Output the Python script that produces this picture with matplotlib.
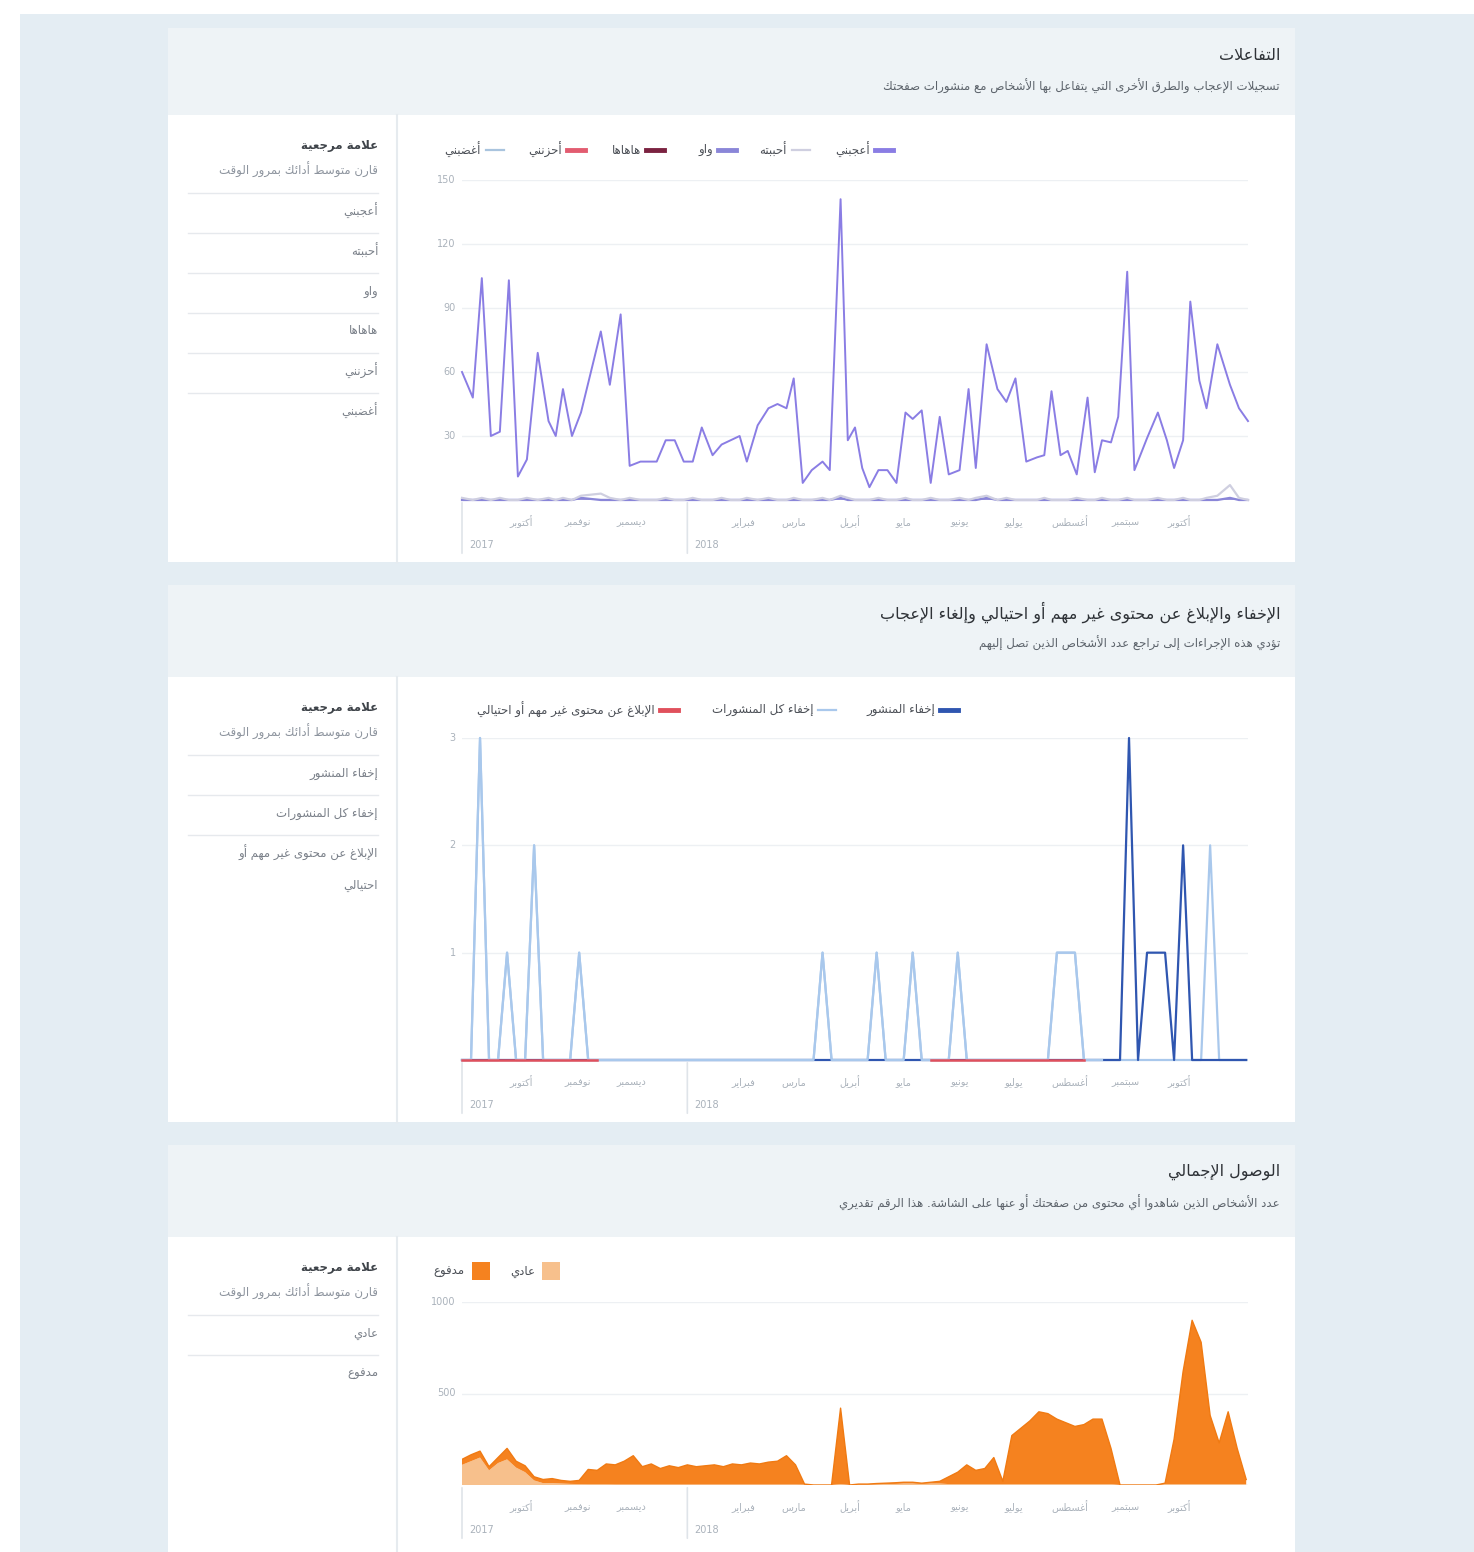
import matplotlib
matplotlib.use('Agg')
import matplotlib.pyplot as plt
from matplotlib.patches import Rectangle
from matplotlib.transforms import offset_copy
import numpy as np
import pandas as pd

W, H = 1474, 1552
ORIGIN = pd.Timestamp('2017-09-01')
X_START, X_END = -3, 433
N = np.nan

# ---- reactions (values per sample day, days counted from ORIGIN)
like_days = [-3, 3, 8, 13, 18, 23, 28, 33, 39, 45,
             49, 53, 58, 63, 74, 79, 85, 90, 96, 105,
             110, 115, 120, 125, 130, 136, 141, 146, 151, 155,
             161, 167, 172, 177, 181, 186, 191, 197, 201, 207,
             211, 215, 219, 223, 228, 233, 238, 243, 247, 252,
             257, 262, 267, 273, 278, 282, 288, 294, 299, 304,
             310, 316, 320, 324, 329, 333, 338, 344, 348, 352,
             357, 361, 366, 370, 377, 383, 388, 392, 397, 401,
             406, 410, 416, 423, 428, 433]
likes = [60, 48, 104, 30, 32, 103, 11, 19, 69, 37,
         30, 52, 30, 41, 79, 54, 87, 16, 18, 18,
         28, 28, 18, 18, 34, 21, 26, 28, 30, 18,
         35, 43, 45, 43, 57, 8, 14, 18, 14, 141,
         28, 34, 15, 6, 14, 14, 8, 41, 38, 42,
         8, 39, 12, 14, 52, 15, 73, 52, 46, 57,
         18, 20, 21, 51, 21, 23, 12, 48, 13, 28,
         27, 39, 107, 14, 29, 41, 28, 15, 28, 93,
         56, 43, 73, 54, 43, 37]
loves = [1, 0, 1, 0, 1, 0, 0, 1, 0, 1,
         0, 1, 0, 2, 3, 1, 0, 1, 0, 0,
         1, 0, 0, 1, 0, 0, 1, 0, 0, 1,
         0, 1, 0, 0, 1, 0, 0, 1, 0, 2,
         1, 0, 0, 0, 1, 0, 0, 1, 0, 0,
         1, 0, 0, 1, 0, 1, 2, 0, 1, 0,
         0, 0, 1, 0, 0, 0, 1, 0, 0, 1,
         0, 0, 1, 0, 0, 1, 0, 0, 1, 0,
         0, 1, 2, 7, 1, 0]
wows = [0, 0, 0, 0, 0, 0, 0, 0, 0, 0,
        0, 0, 0, 1, 0, 0, 0, 0, 0, 0,
        0, 0, 0, 0, 0, 0, 0, 0, 0, 0,
        0, 0, 0, 0, 0, 0, 0, 0, 0, 1,
        0, 0, 0, 0, 0, 0, 0, 0, 0, 0,
        0, 0, 0, 0, 0, 0, 1, 0, 0, 0,
        0, 0, 0, 0, 0, 0, 0, 0, 0, 0,
        0, 0, 0, 0, 0, 0, 0, 0, 0, 0,
        0, 0, 0, 1, 0, 0]

# ---- negative feedback, one sample every 5 days
fb_days = list(range(-3, 433, 5))
hide_all = [0, 0, 3, 0, 0, 1, 0, 0, 2, 0, 0, 0, 0, 1, 0, 0, 0, 0, 0, 0, 0, 0,
            0, 0, 0, 0, 0, 0, 0, 0, 0, 0, 0, 0, 0, 0, 0, 0, 0, 0, 1, 0, 0, 0,
            0, 0, 1, 0, 0, 0, 1, 0, 0, 0, 0, 1, 0, 0, 0, 0, 0, 0, 0, 0, 0, 0,
            1, 1, 1, 0, 0, 0, 0, 0, 0, 0, 0, 0, 0, 0, 0, 0, 0, 2, 0, 0, 0, 0]
hide_post = [0, 0, 0, 0, 0, 0, 0, 0, 0, 0, 0, 0, 0, 0, 0, 0, 0, 0, 0, 0, 0, 0,
             0, 0, 0, 0, 0, 0, 0, 0, 0, 0, 0, 0, 0, 0, 0, 0, 0, 0, 0, 0, 0, 0,
             0, 0, 0, 0, 0, 0, 0, 0, 0, 0, 0, 0, 0, 0, 0, 0, 0, 0, 0, 0, 0, 0,
             0, 0, 0, 0, 0, 0, 0, 0, 3, 0, 1, 1, 1, 0, 2, 0, 0, 0, 0, 0, 0, 0]
report_spam = [0, 0, 0, 0, 0, 0, 0, 0, 0, 0, 0, 0, 0, 0, 0, 0, N, N, N, N, N, N,
               N, N, N, N, N, N, N, N, N, N, N, N, N, N, N, N, N, N, N, N, N, N,
               N, N, N, N, N, N, N, N, 0, 0, 0, 0, 0, 0, 0, 0, 0, 0, 0, 0, 0, 0,
               0, 0, 0, 0, N, N, N, N, N, N, N, N, N, N, N, N, N, N, N, N, N, N]

# ---- total reach, organic and paid
reach_organic = [110, 130, 150, 80, 120, 140, 95, 70, 25, 10, 10, 8, 6, 5, 4, 4, 4, 3, 3, 3, 3, 3,
                 3, 3, 3, 3, 3, 3, 3, 3, 3, 3, 3, 3, 3, 3, 3, 3, 2, 0, 0, 0, 5, 0,
                 3, 3, 4, 5, 6, 8, 8, 6, 8, 8, 5, 5, 5, 5, 5, 5, 5, 5, 5, 5, 5, 5,
                 5, 5, 5, 5, 5, 5, 5, 0, 0, 0, 0, 0, 5, 5, 5, 5, 5, 5, 5, 5, 5, 5]
reach_paid = [30, 35, 35, 20, 30, 60, 35, 35, 20, 20, 25, 17, 14, 20, 81, 76, 111, 107, 127, 157, 97, 112,
              87, 102, 92, 107, 97, 102, 107, 97, 112, 107, 117, 112, 122, 127, 157, 107, 3, 0, 0, 0, 415, 0,
              2, 2, 4, 5, 6, 7, 7, 4, 7, 12, 40, 65, 105, 75, 85, 145, 15, 265, 305, 345, 395, 385,
              355, 335, 315, 325, 355, 355, 195, 0, 0, 0, 0, 0, 5, 245, 615, 895, 775, 375, 225, 395, 195, 25]

MONTHS_AR = ['يناير', 'فبراير', 'مارس', 'أبريل', 'مايو', 'يونيو',
             'يوليو', 'أغسطس', 'سبتمبر', 'أكتوبر', 'نوفمبر', 'ديسمبر']

reaction_names = ['أعجبني', 'أحببته', 'واو', 'هاهاها', 'أحزنني', 'أغضبني']
reaction_colors = ['#8a7de4', '#cfcfe0', '#8a86d8', '#7b2240', '#e25c70', '#a9c4de']
feedback_names = ['إخفاء المنشور', 'إخفاء كل المنشورات', 'الإبلاغ عن محتوى غير مهم أو احتيالي']
feedback_colors = ['#2f56b0', '#a9c8ec', '#e0505c']
reach_names = ['عادي', 'مدفوع']
reach_colors = ['#f7c08c', '#f5821f']

BG = '#e4edf3'
HEADER = '#eef3f6'
TEXT_DARK = '#3e4349'
TEXT_GRAY = '#8d949e'
TICK_GRAY = '#aab2bb'
GRID = '#edf0f3'

# ---- Arabic shaping: contextual presentation forms + visual (RTL) order
_FORMS = {'ء': (0xFE80, 1), 'آ': (0xFE81, 2), 'أ': (0xFE83, 2), 'ؤ': (0xFE85, 2),
          'إ': (0xFE87, 2), 'ئ': (0xFE89, 4), 'ا': (0xFE8D, 2), 'ب': (0xFE8F, 4),
          'ة': (0xFE93, 2), 'ت': (0xFE95, 4), 'ث': (0xFE99, 4), 'ج': (0xFE9D, 4),
          'ح': (0xFEA1, 4), 'خ': (0xFEA5, 4), 'د': (0xFEA9, 2), 'ذ': (0xFEAB, 2),
          'ر': (0xFEAD, 2), 'ز': (0xFEAF, 2), 'س': (0xFEB1, 4), 'ش': (0xFEB5, 4),
          'ص': (0xFEB9, 4), 'ض': (0xFEBD, 4), 'ط': (0xFEC1, 4), 'ظ': (0xFEC5, 4),
          'ع': (0xFEC9, 4), 'غ': (0xFECD, 4), 'ف': (0xFED1, 4), 'ق': (0xFED5, 4),
          'ك': (0xFED9, 4), 'ل': (0xFEDD, 4), 'م': (0xFEE1, 4), 'ن': (0xFEE5, 4),
          'ه': (0xFEE9, 4), 'و': (0xFEED, 2), 'ى': (0xFEEF, 2), 'ي': (0xFEF1, 4)}
_LAM_ALEF = {'آ': 0xFEF5, 'أ': 0xFEF7, 'إ': 0xFEF9, 'ا': 0xFEFB}


def ar(s):
    def dual(c):
        return c in _FORMS and _FORMS[c][1] == 4

    out = []
    i = 0
    while i < len(s):
        c = s[i]
        if c not in _FORMS:
            out.append(c)
            i += 1
            continue
        joined_before = i > 0 and dual(s[i - 1])
        nxt = s[i + 1] if i + 1 < len(s) else ''
        if c == 'ل' and nxt in _LAM_ALEF:
            out.append(chr(_LAM_ALEF[nxt] + (1 if joined_before else 0)))
            i += 2
            continue
        base, nforms = _FORMS[c]
        joined_after = nforms == 4 and nxt in _FORMS and nxt != 'ء'
        if nforms == 1:
            form = 0
        elif joined_before and joined_after:
            form = 3
        elif joined_before:
            form = 1
        elif joined_after:
            form = 2
        else:
            form = 0
        out.append(chr(base + form))
        i += 1
    return ''.join(reversed(out))


plt.rcParams['font.family'] = ['DejaVu Sans']
fig = plt.figure(figsize=(W / 100, H / 100), dpi=100)
fig.patch.set_facecolor('white')


def box(x0, y0, x1, y1, color, z=0):
    fig.patches.append(Rectangle((x0 / W, 1 - y1 / H), (x1 - x0) / W, (y1 - y0) / H,
                                 transform=fig.transFigure, facecolor=color,
                                 edgecolor='none', zorder=z))


def hline(x0, x1, y, color='#e6e9ed', lw=1.0):
    fig.add_artist(plt.Line2D([x0 / W, x1 / W], [1 - y / H, 1 - y / H],
                              transform=fig.transFigure, color=color, lw=lw, zorder=4))


def vline(x, y0, y1, color='#e6ebef', lw=1.5):
    fig.add_artist(plt.Line2D([x / W, x / W], [1 - y0 / H, 1 - y1 / H],
                              transform=fig.transFigure, color=color, lw=lw, zorder=4))


def label(x, y, s, size=9, color=TEXT_DARK, ha='right', weight='normal'):
    fig.text(x / W, 1 - y / H, s, fontsize=size, color=color, ha=ha, va='center',
             fontweight=weight, zorder=5)


def card(top, header_bottom, bottom, title, subtitle, rows):
    box(168, top, 1295, header_bottom, HEADER, 1)
    box(168, header_bottom, 1295, bottom, 'white', 1)
    vline(397, header_bottom, bottom)
    label(1280, top + 27, ar(title), size=11.5, color='#2f3338')
    label(1280, top + 58, ar(subtitle), size=8.5, color='#5c636b')
    # side summary column
    label(378, header_bottom + 31, ar('علامة مرجعية'), size=8.5, weight='bold')
    label(378, header_bottom + 55, ar('قارن متوسط أدائك بمرور الوقت'), size=8.5, color=TEXT_GRAY)
    y = header_bottom + 78
    for row in rows:
        hline(188, 378, y)
        lines = row if isinstance(row, list) else [row]
        for k, part in enumerate(lines):
            label(378, y + 18 + 33 * k, ar(part), size=8.5, color='#7a8089')
        y += 40 * len(lines)


def plot_area(x0, y0, x1, y1, ymax):
    ax = fig.add_axes([x0 / W, 1 - y1 / H, (x1 - x0) / W, (y1 - y0) / H])
    ax.set_zorder(10)
    ax.set_facecolor('none')
    for sp in ax.spines.values():
        sp.set_visible(False)
    ax.set_xticks([])
    ax.set_yticks([])
    ax.set_xlim(X_START, X_END)
    ax.set_ylim(0, ymax)
    return ax


def time_axis(ax, yticks):
    for v in yticks:
        ax.axhline(v, color=GRID, lw=1.0, zorder=0)
        ax.text(-0.008, v, f'{v:g}', transform=ax.get_yaxis_transform(), ha='right',
                va='center', fontsize=7, color=TICK_GRAY)
    ax.axhline(0, color='#dde3e8', lw=1.0, zorder=0)
    month_tr = offset_copy(ax.get_xaxis_transform(), fig=fig, y=-22, units='dots')
    year_tr = offset_copy(ax.get_xaxis_transform(), fig=fig, y=-45, units='dots')
    tick_tr = offset_copy(ax.get_xaxis_transform(), fig=fig, y=-56, units='dots')
    for d in pd.date_range('2017-10-01', '2018-10-01', freq='MS'):
        pos = (d - ORIGIN).days
        if d.month == 1:
            continue
        ax.text(pos, 0, ar(MONTHS_AR[d.month - 1]), transform=month_tr, ha='center',
                va='center', fontsize=7, color=TICK_GRAY)
    for year, start in ((2017, X_START), (2018, (pd.Timestamp('2018-01-01') - ORIGIN).days)):
        ax.annotate('', xy=(start, 0), xycoords=ax.get_xaxis_transform(),
                    xytext=(start, 0), textcoords=tick_tr,
                    arrowprops=dict(arrowstyle='-', color='#dfe4e9', lw=1.2))
        ax.text(start + 4, 0, str(year), transform=year_tr, ha='left', va='center',
                fontsize=7, color=TICK_GRAY)


def legend_line(x, y, color, thick):
    hline(x - 9, x + 9, y, color=color, lw=3.5 if thick else 1.6)


# ---------- background
box(20, 14, W, H, BG, 0)

# ---------- card 1: reactions
card(28, 115, 562, 'التفاعلات',
     'تسجيلات الإعجاب والطرق الأخرى التي يتفاعل بها الأشخاص مع منشورات صفحتك',
     reaction_names)
legend_x = [884, 801, 727, 655, 576, 495]
for name, color, lx, thick in zip(reaction_names, reaction_colors, legend_x,
                                  [True, False, True, True, True, False]):
    legend_line(lx, 150, color, thick)
    label(lx - 14, 150, ar(name), size=8.5, color='#4b4f56')

ax1 = plot_area(462, 180, 1248, 500, 150)
time_axis(ax1, [30, 60, 90, 120, 150])
ax1.plot(like_days, np.zeros(len(like_days)), color='#9a93dc', lw=1.6, zorder=2)
for vals, color in zip([wows, loves], [reaction_colors[2], reaction_colors[1]]):
    ax1.plot(like_days, vals, color=color, lw=1.6, zorder=3, clip_on=False)
ax1.plot(like_days, likes, color=reaction_colors[0], lw=1.4, zorder=4, clip_on=False)

# ---------- card 2: negative feedback
card(585, 677, 1122, 'الإخفاء والإبلاغ عن محتوى غير مهم أو احتيالي وإلغاء الإعجاب',
     'تؤدي هذه الإجراءات إلى تراجع عدد الأشخاص الذين تصل إليهم',
     ['إخفاء المنشور', 'إخفاء كل المنشورات', ['الإبلاغ عن محتوى غير مهم أو', 'احتيالي']])
for name, color, lx, thick in zip(feedback_names, feedback_colors, [949, 827, 669],
                                  [True, False, True]):
    legend_line(lx, 710, color, thick)
    label(lx - 14, 710, ar(name), size=8.5, color='#4b4f56')

ax2 = plot_area(462, 738, 1248, 1060, 3)
time_axis(ax2, [1, 2, 3])
ax2.plot(fb_days, hide_all, color=feedback_colors[1], lw=1.6, zorder=3, clip_on=False)
ax2.plot(fb_days, hide_post, color=feedback_colors[0], lw=1.6, zorder=4, clip_on=False)
ax2.plot(fb_days[:72], hide_all[:72], color=feedback_colors[1], lw=1.6, zorder=4, clip_on=False)
ax2.plot(fb_days, report_spam, color=feedback_colors[2], lw=1.8, zorder=5, clip_on=False)

# ---------- card 3: total reach
card(1145, 1237, H, 'الوصول الإجمالي',
     'عدد الأشخاص الذين شاهدوا أي محتوى من صفحتك أو عنها على الشاشة. هذا الرقم تقديري',
     reach_names)
for name, color, lx in zip(reach_names, reach_colors, [551, 481]):
    box(lx - 9, 1262, lx + 9, 1280, color, 3)
    label(lx - 16, 1271, ar(name), size=8.5, color='#4b4f56')

ax3 = plot_area(462, 1302, 1248, 1485, 1000)
time_axis(ax3, [500, 1000])
ax3.stackplot(fb_days, reach_organic, reach_paid, colors=reach_colors,
              edgecolor='none', zorder=3)
ax3.plot(fb_days, np.add(reach_organic, reach_paid), color='#f07a12', lw=1.0, zorder=4)

fig.savefig('out.png', dpi=100, facecolor=fig.get_facecolor())
